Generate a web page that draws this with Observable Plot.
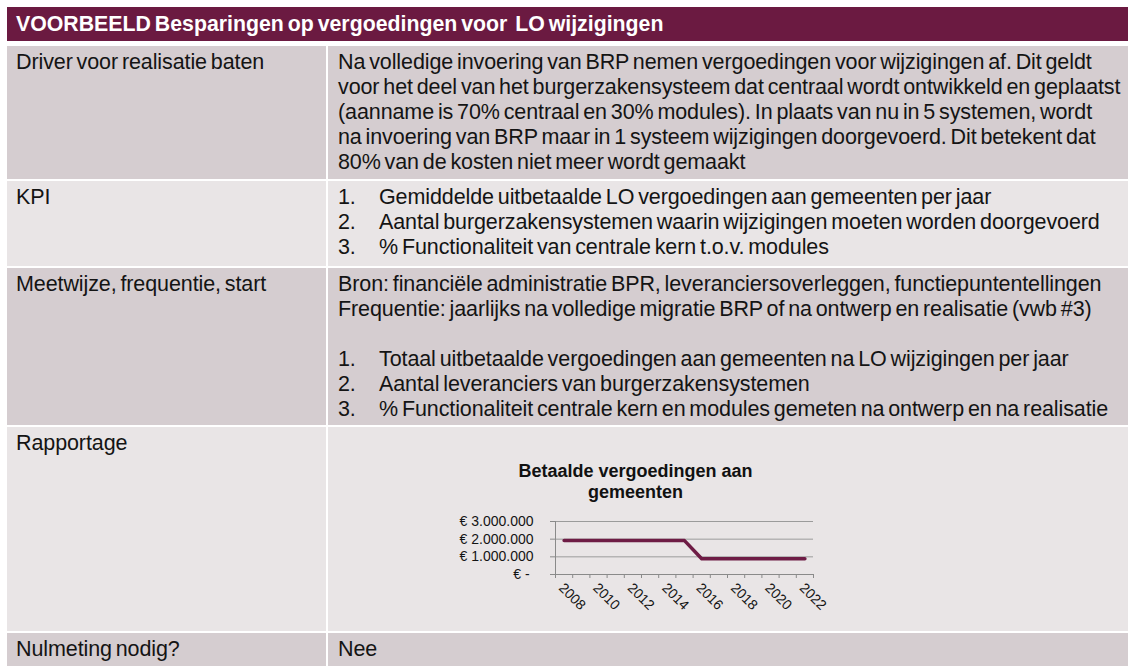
<!DOCTYPE html>
<html>
<head>
<meta charset="utf-8">
<script src="https://cdn.jsdelivr.net/npm/d3@7"></script>
<script src="https://cdn.jsdelivr.net/npm/@observablehq/plot@0.6"></script>
<style>
  html, body { margin: 0; padding: 0; background: #fff; }
  #page { position: relative; width: 1128px; height: 666px; overflow: hidden;
          font-family: "Liberation Sans", Arial, sans-serif; color: #141414; }
  .cell { position: absolute; box-sizing: border-box; font-size: 21.5px; line-height: 25px;
          padding-top: 4px; white-space: nowrap; word-spacing: -2px; letter-spacing: -0.1px; }
  .dark { background: #d5cdd0; }
  .light { background: #e9e5e6; }
  .l { left: 7px; width: 319px; padding-left: 9px; }
  .r { left: 328px; width: 800px; padding-left: 10px; }
  .hdr { position: absolute; left: 7px; top: 7px; width: 1121px; height: 34px; background: #6b1a41;
         color: #fff; font-weight: bold; font-size: 21.3px; line-height: 25px; padding: 5px 0 0 9px;
         box-sizing: border-box; white-space: pre; word-spacing: -2px; }
  .li { display: flex; }
  .li .n { width: 41px; flex: none; }
  #ctitle { position: absolute; left: 435px; top: 461px; width: 401px; text-align: center;
            font-weight: bold; font-size: 18px; line-height: 21px; color: #111; }
  #chart { position: absolute; left: 440px; top: 511px; }
</style>
</head>
<body>
<div id="page">
  <div class="hdr">VOORBEELD Besparingen op vergoedingen voor  LO wijzigingen</div>

  <div class="cell dark l" style="top:46px;height:133px;">Driver voor realisatie baten</div>
  <div class="cell dark r" style="top:46px;height:133px;">
    <div>Na volledige invoering van BRP nemen vergoedingen voor wijzigingen af. Dit geldt</div>
    <div>voor het deel van het burgerzakensysteem dat centraal wordt ontwikkeld en geplaatst</div>
    <div>(aanname is 70% centraal en 30% modules). In plaats van nu in 5 systemen, wordt</div>
    <div>na invoering van BRP maar in 1 systeem wijzigingen doorgevoerd. Dit betekent dat</div>
    <div>80% van de kosten niet meer wordt gemaakt</div>
  </div>

  <div class="cell light l" style="top:181px;height:85px;">KPI</div>
  <div class="cell light r" style="top:181px;height:85px;">
    <div class="li"><span class="n">1.</span><span>Gemiddelde uitbetaalde LO vergoedingen aan gemeenten per jaar</span></div>
    <div class="li"><span class="n">2.</span><span>Aantal burgerzakensystemen waarin wijzigingen moeten worden doorgevoerd</span></div>
    <div class="li"><span class="n">3.</span><span>% Functionaliteit van centrale kern t.o.v. modules</span></div>
  </div>

  <div class="cell dark l" style="top:268px;height:157px;">Meetwijze, frequentie, start</div>
  <div class="cell dark r" style="top:268px;height:157px;">
    <div>Bron: financiële administratie BPR, leveranciersoverleggen, functiepuntentellingen</div>
    <div>Frequentie: jaarlijks na volledige migratie BRP of na ontwerp en realisatie (vwb #3)</div>
    <div>&nbsp;</div>
    <div class="li"><span class="n">1.</span><span>Totaal uitbetaalde vergoedingen aan gemeenten na LO wijzigingen per jaar</span></div>
    <div class="li"><span class="n">2.</span><span>Aantal leveranciers van burgerzakensystemen</span></div>
    <div class="li"><span class="n">3.</span><span>% Functionaliteit centrale kern en modules gemeten na ontwerp en na realisatie</span></div>
  </div>

  <div class="cell light l" style="top:427px;height:204px;">Rapportage</div>
  <div class="cell light r" style="top:427px;height:204px;"></div>

  <div class="cell dark l" style="top:633px;height:33px;">Nulmeting nodig?</div>
  <div class="cell dark r" style="top:633px;height:33px;">Nee</div>

  <div id="ctitle">Betaalde vergoedingen aan<br>gemeenten</div>
  <div id="chart"></div>
</div>

<script>
// ---- chart data ----
const chartTitle = "Betaalde vergoedingen aan gemeenten";
const years = [2008, 2009, 2010, 2011, 2012, 2013, 2014, 2015, 2016, 2017, 2018, 2019, 2020, 2021, 2022];
const payments = [1920000, 1920000, 1920000, 1920000, 1920000, 1920000, 1920000, 1920000,
                  890000, 890000, 890000, 890000, 890000, 890000, 890000];
const yTicks = [0, 1000000, 2000000, 3000000];
const xLabelYears = [2008, 2010, 2012, 2014, 2016, 2018, 2020, 2022];

const data = years.map((year, i) => ({year, value: payments[i]}));
const xDomain = [years[0] - 0.5, years[years.length - 1] + 0.5];
const boundaries = years.map(y => y - 0.5).concat([years[years.length - 1] + 0.5]);

const nl = d3.formatLocale({decimal: ",", thousands: ".", grouping: [3], currency: ["€ ", ""]});
const fmtInt = nl.format(",.0f");
const fmtEuro = d => d === 0 ? "€ -\u00a0" : "€ " + fmtInt(d);

const lineColor = "#6e1c45";
const gridColor = "#9b9b9b";
const axisColor = "#8a8a8a";

const chart = Plot.plot({
  width: 400,
  height: 120,
  marginLeft: 115,
  marginRight: 27,
  marginTop: 10,
  marginBottom: 57,
  style: {background: "transparent", fontFamily: "'Liberation Sans', Arial, sans-serif", fontSize: "14px", color: "#141414", overflow: "visible"},
  x: {domain: xDomain, label: null},
  y: {domain: [yTicks[0], yTicks[yTicks.length - 1]], label: null},
  marks: [
    Plot.gridY(yTicks.filter(d => d > 0), {stroke: gridColor, strokeOpacity: 1}),
    Plot.ruleY([yTicks[0]], {stroke: axisColor}),
    Plot.ruleX([xDomain[0]], {stroke: axisColor}),
    Plot.axisY({ticks: yTicks, tickFormat: fmtEuro, tickSize: 5, tickPadding: 17, stroke: axisColor, fontSize: 14}),
    Plot.axisX({ticks: boundaries, tickSize: 4, tickFormat: () => "", stroke: axisColor}),
    Plot.axisX({ticks: xLabelYears, tickSize: 0, tickRotate: 45, tickFormat: d => String(d), textAnchor: "start", fontSize: 14, tickPadding: 6, dx: -3, dy: 5}),
    Plot.line(data, {x: "year", y: "value", stroke: lineColor, strokeWidth: 3.5})
  ]
});
document.getElementById("chart").appendChild(chart);
</script>
</body>
</html>
